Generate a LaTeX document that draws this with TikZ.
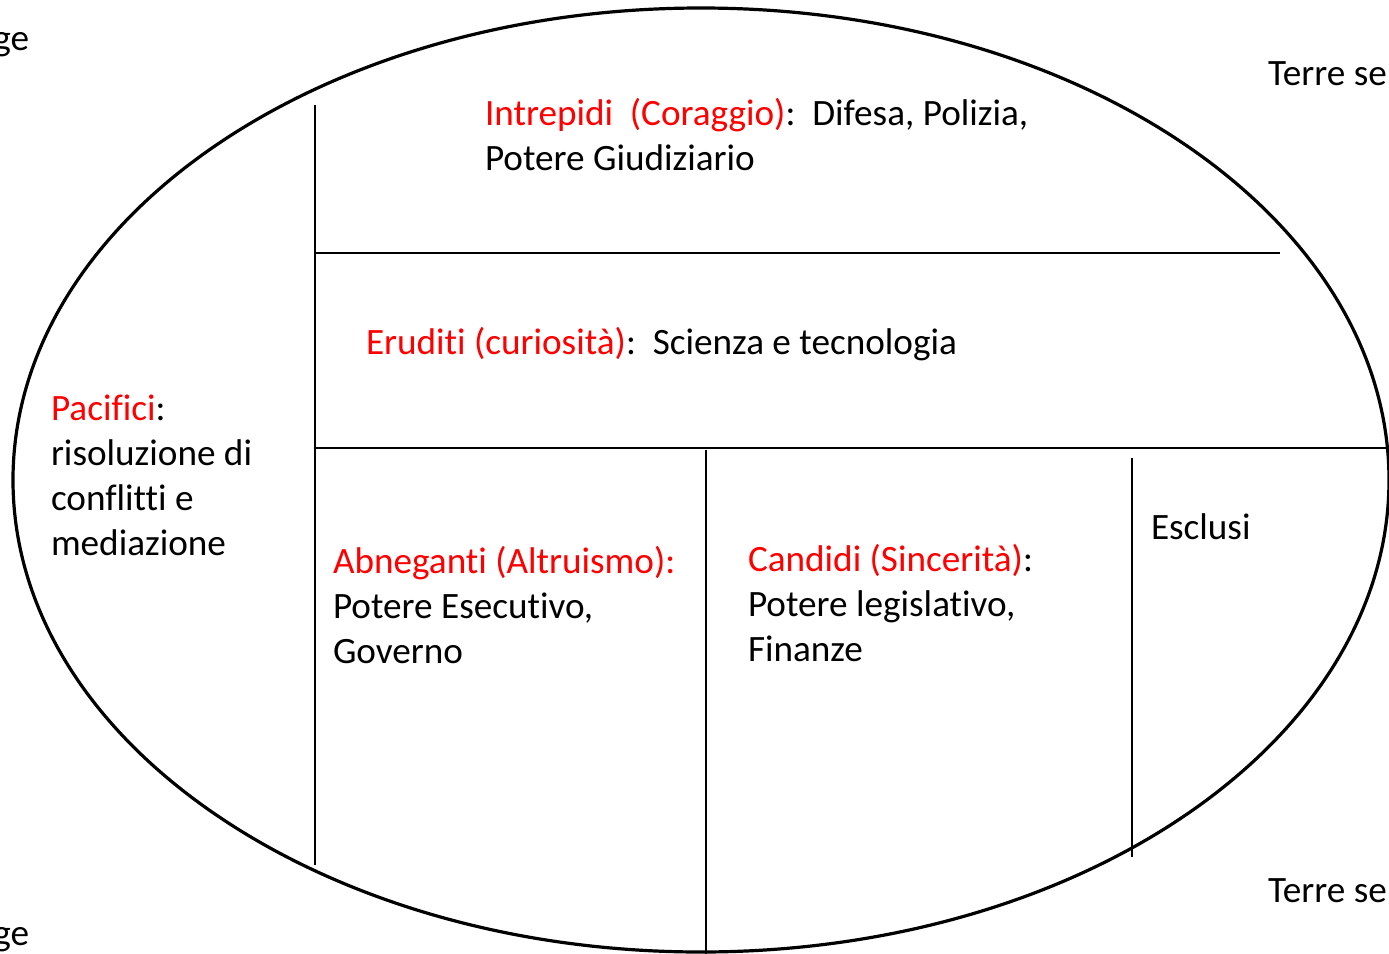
\documentclass[tikz,border=0pt]{standalone}
\usepackage{fontspec}
\setmainfont[Ligatures={NoCommon}]{Carlito}
\usetikzlibrary{shapes.geometric}
\newcommand{\redtxt}[1]{\textcolor{red}{#1}}
\begin{document}
\begin{tikzpicture}[x=0.5pt,y=-0.5pt,
  txt/.style={anchor=base west, inner sep=0pt, outer sep=0pt,
    font=\fontsize{18.6pt}{22.5pt}\selectfont},
  rim/.style={line width=1.6pt},
  divider/.style={line width=1pt}]
\useasboundingbox (0,0) rectangle (1389,954);
% outer ellipse
\node[rim, draw, ellipse, minimum width=688pt, minimum height=472pt, inner sep=0pt] (world) at (701,480) {};
% divider end points
\coordinate (v1t) at (315,105);
\coordinate (v1b) at (315,865);
\coordinate (h1l) at (315,253);
\coordinate (h1r) at (1280,253);
\coordinate (h2l) at (315,448);
\coordinate (h2r) at (1390,448);
\coordinate (v2t) at (706,450);
\coordinate (v2b) at (706,956);
\coordinate (v3t) at (1132,458);
\coordinate (v3b) at (1132,857);
\draw[divider] (v1t) -- (v1b);
\draw[divider] (h1l) -- (h1r);
\draw[divider] (h2l) -- (h2r);
\draw[divider] (v2t) -- (v2b);
\draw[divider] (v3t) -- (v3b);
% texts
\node[txt] (intrepidi) at (485,125) {\begin{tabular}[t]{@{}l@{}}\redtxt{Intrepidi\ \ (Coraggio)}:\ \ Difesa, Polizia,\\Potere Giudiziario\end{tabular}};
\node[txt] (eruditi) at (366,354) {\redtxt{Eruditi (curiosità)}:\ \ Scienza e tecnologia};
\node[txt] (pacifici) at (51,420) {\begin{tabular}[t]{@{}l@{}}\redtxt{Pacifici}:\\risoluzione di\\conflitti e\\mediazione\end{tabular}};
\node[txt] (abneganti) at (333,573) {\begin{tabular}[t]{@{}l@{}}\redtxt{Abneganti (Altruismo):}\\Potere Esecutivo,\\Governo\end{tabular}};
\node[txt] (candidi) at (748,571) {\begin{tabular}[t]{@{}l@{}}\redtxt{Candidi (Sincerità)}:\\Potere legislativo,\\Finanze\end{tabular}};
\node[txt] (esclusi) at (1151,539) {Esclusi};
\node[txt] (terretop) at (1268,85) {Terre se};
\node[txt] (terrebot) at (1268,902) {Terre se};
\node[txt, anchor=base east] (getop) at (29,50) {ge};
\node[txt, anchor=base east] (gebot) at (29,945) {ge};
\end{tikzpicture}
\end{document}
